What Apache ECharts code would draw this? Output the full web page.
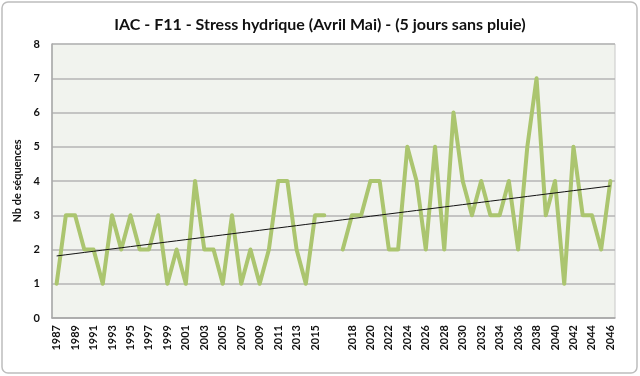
<!DOCTYPE html>
<html>
<head>
<meta charset="utf-8">
<script src="https://cdn.jsdelivr.net/npm/echarts@6/dist/echarts.min.js"></script>
<style>
  html, body { margin: 0; padding: 0; background: #fff; }
  #chart { width: 640px; height: 376px; }
</style>
</head>
<body>
<div id="chart"></div>
<script>
// observed years 1987-2016, projection years 2017-2046, blank row between
var histYears = [1987, 1988, 1989, 1990, 1991, 1992, 1993, 1994, 1995, 1996,
  1997, 1998, 1999, 2000, 2001, 2002, 2003, 2004, 2005, 2006,
  2007, 2008, 2009, 2010, 2011, 2012, 2013, 2014, 2015, 2016]
var projYears = [2017, 2018, 2019, 2020, 2021, 2022, 2023, 2024, 2025, 2026,
  2027, 2028, 2029, 2030, 2031, 2032, 2033, 2034, 2035, 2036,
  2037, 2038, 2039, 2040, 2041, 2042, 2043, 2044, 2045, 2046]
var histValues = [1, 3, 3, 2, 2, 1, 3, 2, 3, 2, 2, 3, 1, 2, 1, 4, 2, 2, 1, 3,
  1, 2, 1, 2, 4, 4, 2, 1, 3, 3]
var projValues = [2, 3, 3, 4, 4, 2, 2, 5, 4, 2, 5, 2, 6, 4, 3, 4, 3, 3, 4, 2,
  5, 7, 3, 4, 1, 5, 3, 3, 2, 4]

var categories = histYears.map(String).concat([''], projYears.map(String))
var values = histValues.concat([null], projValues)

// linear trend (least squares on the category index, blank skipped)
var pts = []
values.forEach(function (v, i) { if (v !== null) pts.push([i, v]) })
var n = pts.length, sx = 0, sy = 0, sxx = 0, sxy = 0
pts.forEach(function (p) { sx += p[0]; sy += p[1]; sxx += p[0] * p[0]; sxy += p[0] * p[1] })
var slope = (n * sxy - sx * sy) / (n * sxx - sx * sx)
var icpt = (sy - slope * sx) / n
var trend = values.map(function (v, i) { return +(icpt + slope * i).toFixed(3) })

var font = 'Lato, "Open Sans", sans-serif'
var myChart = echarts.init(document.getElementById('chart'))
var option = {
  animation: false,
  backgroundColor: '#fff',
  textStyle: { fontFamily: font },
  title: {
    text: 'IAC - F11 - Stress hydrique (Avril Mai) - (5 jours sans pluie)',
    left: 'center',
    top: 12,
    textStyle: { fontFamily: font, fontSize: 16, fontWeight: 'bold', color: '#111' }
  },
  graphic: [{
    type: 'rect',
    shape: { x: 2, y: 2, width: 635, height: 371, r: 6 },
    style: { fill: 'none', stroke: '#bdbdbd', lineWidth: 1.5 },
    silent: true
  }],
  grid: {
    left: 52, top: 44, width: 563, height: 274,
    show: true,
    backgroundColor: '#f1f3ee',
    borderColor: '#c8c8c8',
    borderWidth: 1
  },
  xAxis: {
    type: 'category',
    data: categories,
    boundaryGap: true,
    axisLine: { lineStyle: { color: '#a8a8a8', width: 1.5 } },
    axisTick: { show: false },
    axisLabel: {
      interval: 1,
      rotate: 90,
      margin: 7,
      fontSize: 11,
      fontWeight: 'bold',
      color: '#111',
      fontFamily: font
    }
  },
  yAxis: {
    type: 'value',
    min: 0,
    max: 8,
    interval: 1,
    name: 'Nb de séquences',
    nameLocation: 'middle',
    nameGap: 29,
    nameRotate: 90,
    nameTextStyle: { fontSize: 11, fontWeight: 'bold', color: '#111', fontFamily: font },
    axisLine: { show: true, lineStyle: { color: '#a8a8a8', width: 1.5 } },
    axisTick: { show: false },
    splitLine: { lineStyle: { color: '#b4b4b4', width: 1.5 } },
    axisLabel: { fontSize: 11, fontWeight: 'bold', color: '#111', margin: 12, fontFamily: font }
  },
  series: [
    {
      name: 'Stress hydrique',
      type: 'line',
      data: values,
      symbol: 'none',
      connectNulls: false,
      lineStyle: { color: '#abc56f', width: 4, join: 'round', cap: 'round' },
      z: 2
    },
    {
      name: 'Tendance',
      type: 'line',
      data: trend,
      symbol: 'none',
      lineStyle: { color: '#111', width: 1 },
      z: 3
    }
  ]
}
myChart.setOption(option)
</script>
</body>
</html>
